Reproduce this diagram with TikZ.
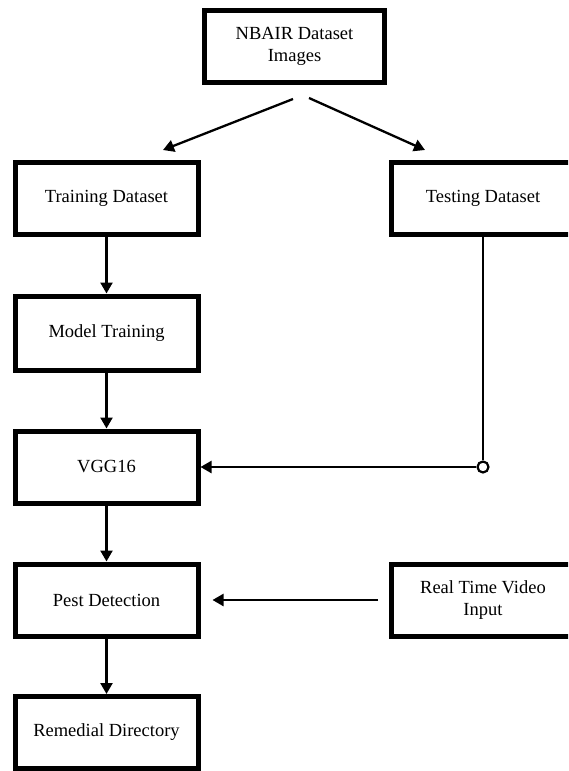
\documentclass[tikz,border=0pt]{standalone}
\usepackage{fontspec}
\setmainfont{Liberation Serif}
\usetikzlibrary{arrows.meta}
\begin{document}
\begin{tikzpicture}[x=1pt,y=-1pt,
  box/.style={draw=black, line width=5pt, minimum width=183pt, minimum height=72pt,
    align=center, font=\fontsize{18.5}{22}\selectfont, text=black, inner sep=0pt},
  conn/.style={line width=2.3pt, draw=black},
  arr/.style={conn, -{Triangle[length=11pt,width=12pt]}},
  junction/.style={circle, draw=black, line width=2.2pt, fill=white, minimum size=11pt, inner sep=0pt}
  ]
\useasboundingbox (0,0) rectangle (568,771);
\clip (0,0) rectangle (568,771);

\node[box, minimum width=180pt] (nbair) at (294.5,46.5) {NBAIR Dataset\\Images};
\node[box] (train) at (106.5,198.5) {Training Dataset};
\node[box] (test) at (483,198.5) {Testing Dataset};
\node[box, minimum height=74pt] (model) at (106.5,333) {Model Training};
\node[box] (vgg) at (106.5,467) {VGG16};
\node[box] (pest) at (106.5,600) {Pest Detection};
\node[box] (real) at (483,600) {Real Time Video\\Input};
\node[box] (rem) at (106.5,732.5) {Remedial Directory};

\coordinate (s1) at (293,99);
\coordinate (e1) at (163,150);
\coordinate (s2) at (309,98);
\coordinate (e2) at (425,150);
\draw[arr] (s1) -- (e1);
\draw[arr] (s2) -- (e2);

\draw[arr] (train.south) -- (model.north);
\draw[arr] (model.south) -- (vgg.north);
\draw[arr] (vgg.south) -- (pest.north);
\draw[arr] (pest.south) -- (rem.north);

\node[junction] (j) at (483,467) {};
\draw[conn] (test.south) -- (j.north);
\draw[arr] (j.west) -- (vgg.east);

\draw[arr, shorten <=11pt, shorten >=12pt] (real.west) -- (pest.east);
\end{tikzpicture}
\end{document}
